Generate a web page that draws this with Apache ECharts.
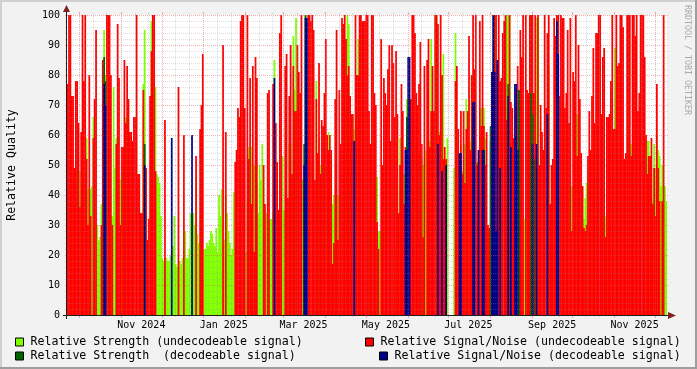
<!DOCTYPE html>
<html><head><meta charset="utf-8">
<script src="https://cdn.jsdelivr.net/npm/echarts@6/dist/echarts.min.js"></script>
<style>html,body{margin:0;padding:0;background:#f2f2f2}#c{width:697px;height:369px}</style>
</head><body><div id="c"></div>
<script>
const _ = null;
// ---- time frame (one value per day) ----
const startDate = [2024, 8, 22];   // 22 Sep 2024
const dayCount = 444;
// ---- series values ----
const strengthUndecodeable = [
_,_,_,_,46,36,_,_,_,48,
_,_,_,_,59,42,_,42,43,66,
_,_,30,25,26,37,37,95,80,_,
_,_,33,33,76,49,59,_,_,45,
50,50,_,66,_,_,_,_,55,_,
_,_,_,_,32,32,77,95,_,_,
_,_,98,_,_,76,47,46,44,33,
19,18,19,19,18,18,20,_,23,33,
17,16,16,18,17,19,20,28,19,19,
22,34,_,34,30,46,27,24,24,_,
_,22,22,24,23,25,28,27,24,23,
29,21,40,33,42,25,25,40,34,28,
24,20,22,41,_,_,_,_,_,_,
_,_,21,38,56,_,56,_,50,40,
44,34,50,45,57,_,_,34,_,_,
32,32,34,85,_,51,_,35,_,53,
35,33,_,_,57,57,41,93,75,99,
_,_,_,_,45,_,100,_,_,_,
_,_,_,_,78,_,59,50,_,50,
50,50,_,61,_,49,37,40,_,_,
40,_,_,_,_,_,68,100,97,_,
_,67,62,_,_,92,_,_,_,_,
_,_,33,33,_,_,_,_,_,46,
28,28,_,_,_,_,_,_,_,_,
_,_,_,22,44,_,59,50,42,47,
_,72,_,_,_,_,_,_,57,_,
54,_,53,50,36,55,_,57,58,92,
_,_,100,100,_,61,_,_,87,51,
_,59,_,_,_,_,49,94,_,_,
_,57,48,41,57,72,61,_,58,80,
_,79,_,51,28,_,69,_,69,59,
29,28,23,_,_,_,_,40,_,_,
_,_,_,_,_,100,100,100,_,_,
_,27,_,_,_,_,_,_,32,_,
_,_,100,_,_,_,_,99,99,22,
_,_,_,_,_,_,83,37,_,_,
_,_,_,_,_,_,_,_,_,_,
_,_,_,43,_,_,_,67,_,_,
_,43,32,39,44,_,_,33,_,38,
33,_,_,_,_,33,_,33,33,24,
34,_,_,_,_,89,_,37,_,_,
_,_,23,_,_,_,_,57,_,_,
_,_,_,_,_,_,_,_,_,58,
58,53,47,38,57,49,62,55,53,43,
50,_,43,38];
const snrUndecodeable = [
77,100,100,73,73,49,78,78,64,36,
61,100,78,100,52,30,80,33,_,59,
72,95,_,_,_,30,85,_,_,100,
100,100,80,30,_,_,57,97,79,30,
56,56,85,64,83,72,61,61,58,66,
66,100,47,47,34,34,75,_,49,25,
32,73,88,100,100,48,_,_,_,_,
_,_,65,_,_,_,_,_,_,_,
_,_,76,_,_,_,60,_,_,_,
_,_,_,_,_,53,_,_,62,70,
87,_,_,_,_,_,_,_,_,_,
_,_,_,_,_,90,_,61,_,_,
_,_,_,_,51,55,69,66,98,100,
100,69,_,100,52,79,37,83,21,86,
79,_,_,_,_,50,37,_,74,75,
_,_,77,_,64,51,35,94,100,_,
_,83,87,39,73,90,47,83,68,68,
90,81,74,100,_,_,_,_,100,100,
98,100,95,45,72,54,84,47,65,63,
74,92,60,55,60,55,17,24,72,95,
25,75,57,99,97,100,92,80,83,73,
67,67,_,100,80,80,100,100,98,98,
98,100,100,68,57,100,100,74,70,31,
22,_,92,50,79,74,70,82,90,58,
90,84,66,88,67,34,50,77,68,37,
56,_,_,_,72,100,100,94,74,70,
77,91,57,26,83,_,85,92,56,68,
83,68,100,100,97,60,100,80,52,56,
52,_,_,_,_,_,_,78,83,62,
53,68,47,68,44,62,68,93,55,80,
100,82,100,50,51,98,63,100,63,50,
61,30,29,58,73,_,100,100,60,100,
78,79,94,98,100,65,_,100,71,69,
59,39,60,83,75,95,86,100,_,100,
75,74,100,100,100,74,100,_,100,50,
70,61,55,100,69,94,100,37,50,52,
99,93,100,100,73,100,99,99,69,74,
95,64,99,28,81,78,100,53,90,72,
54,43,29,28,30,53,68,55,73,89,
64,94,94,100,100,67,86,89,26,66,
66,67,78,100,62,62,100,83,84,100,
100,96,52,54,100,100,100,53,100,100,
93,100,68,74,100,100,100,86,60,47,
53,53,59,37,49,33,77,49,38,_,
38,100,_,_];
// decodeable samples are sparse: [day, value]
const strengthDecodeable = [[27,86],[28,78],[57,57],[175,57],[176,100],[251,66],[313,63],[314,81],[315,100],[326,77],[334,75],[343,74],[344,67],[345,52]];
const snrDecodeable = [[27,77],[28,70],[57,50],[77,59],[92,60],[153,79],[175,50],[176,99],[177,99],[212,58],[250,55],[251,55],[252,86],[253,86],[274,57],[277,48],[280,50],[290,54],[291,54],[300,71],[301,71],[304,55],[307,55],[308,55],[314,81],[315,100],[316,81],[317,28],[318,85],[320,49],[326,73],[328,56],[331,77],[332,77],[333,55],[344,57],[347,57],[355,67],[362,98],[363,87]];
// ---- tick labels ----
const monthLabels = ['Nov 2024','Jan 2025','Mar 2025','May 2025','Jul 2025','Sep 2025','Nov 2025'];
const seriesNames = ['Relative Strength (undecodeable signal)','Relative Signal/Noise (undecodeable signal)','Relative Strength  (decodeable signal)','Relative Signal/Noise (decodeable signal)'];
const colors = ['#80FF00','#FF0000','#006400','#00008B'];

const DAY = 86400000;
const t0 = Date.UTC(startDate[0], startDate[1], startDate[2]);
const dayIndex = (y, m, d) => Math.round((Date.UTC(y, m, d) - t0) / DAY);
const categories = Array.from({length: dayCount}, (v, i) => new Date(t0 + i * DAY).toISOString().slice(0, 10));
const MON = ['Jan','Feb','Mar','Apr','May','Jun','Jul','Aug','Sep','Oct','Nov','Dec'];
const labelDays = [], labelMap = {};
monthLabels.forEach(s => {
  const [mn, yr] = s.split(' ');
  const d = dayIndex(+yr, MON.indexOf(mn), 1) + 15;
  labelDays.push(d); labelMap[d] = s;
});
// vertical grid: major at month starts, minor on day 11 / 21
const vGrid = [];
for (let y = 2024, m = 8; y < 2026; m++) {
  if (m > 11) { m = 0; y++; }
  if (y > 2025) break;
  [[1,1],[11,0],[21,0]].forEach(([dd, major]) => {
    const di = dayIndex(y, m, dd);
    if (di > 0 && di < dayCount) vGrid.push([di, major]);
  });
}
const hGrid = [];
for (let v = 2; v <= 100; v += 2) hGrid.push([v, v % 10 === 0 ? 1 : 0]);

const GRIDC = 'rgba(143,143,143,0.3)', MGRIDC = 'rgba(222,79,79,0.45)';
const FONT = 'DejaVu Sans Mono';

const chart = echarts.init(document.getElementById('c'), null, {renderer: 'canvas', width: 697, height: 369});
const barCommon = {type: 'bar', xAxisIndex: 0, yAxisIndex: 0, barWidth: 1.75, barGap: '-100%', barCategoryGap: '0%', silent: true, animation: false};
chart.setOption({
  backgroundColor: '#f2f2f2',
  animation: false,
  grid: {left: 67, top: 15, width: 600, height: 300, show: true, backgroundColor: '#ffffff', borderWidth: 0},
  xAxis: [
    {type: 'category', data: categories, show: false, boundaryGap: true},
    {type: 'value', min: 0, max: dayCount, position: 'bottom',
     axisLine: {show: false}, axisTick: {show: false}, splitLine: {show: false},
     axisLabel: {customValues: labelDays, formatter: v => labelMap[v] || '', fontFamily: FONT, fontSize: 10, color: '#000', margin: 5}}
  ],
  yAxis: {type: 'value', min: 0, max: 100, interval: 10,
    axisLine: {show: false}, axisTick: {show: false}, splitLine: {show: false},
    axisLabel: {fontFamily: FONT, fontSize: 10, color: '#000', margin: 7}},
  legend: [
    {left: 15, top: 336, data: [seriesNames[0]]},
    {left: 365, top: 336, data: [seriesNames[1]]},
    {left: 15, top: 350, data: [seriesNames[2]]},
    {left: 379, top: 350, data: [seriesNames[3]]}
  ].map(l => Object.assign({padding: 0, itemWidth: 8, itemHeight: 8, icon: 'rect', selectedMode: false,
      itemStyle: {borderColor: '#000', borderWidth: 1},
      textStyle: {fontFamily: FONT, fontSize: 11.6, color: '#000', padding: [0, 0, 0, 2]}}, l)),
  series: [
    Object.assign({name: seriesNames[0], data: strengthUndecodeable, itemStyle: {color: colors[0]}}, barCommon),
    Object.assign({name: seriesNames[1], data: snrUndecodeable, itemStyle: {color: colors[1]}}, barCommon),
    Object.assign({name: seriesNames[2], data: strengthDecodeable, itemStyle: {color: colors[2]}}, barCommon),
    Object.assign({name: seriesNames[3], data: snrDecodeable, itemStyle: {color: colors[3]}}, barCommon),
    {type: 'custom', xAxisIndex: 1, yAxisIndex: 0, z: 5, silent: true, data: vGrid,
     renderItem: (p, api) => {
       const d = api.value(0), major = api.value(1);
       const a = api.coord([d, 0]), b = api.coord([d, 100]);
       const x = Math.round(a[0]) + 0.5, c = major ? MGRIDC : GRIDC;
       return {type: 'group', children: [
         {type: 'line', shape: {x1: x, y1: a[1], x2: x, y2: b[1]}, style: {stroke: c, lineWidth: 1, lineDash: [1, 1]}},
         {type: 'line', shape: {x1: x, y1: a[1], x2: x, y2: a[1] + (major ? 3 : 2)}, style: {stroke: c, lineWidth: 1}},
         {type: 'line', shape: {x1: x, y1: b[1], x2: x, y2: b[1] - (major ? 3 : 2)}, style: {stroke: c, lineWidth: 1}}
       ]};
     }},
    {type: 'custom', xAxisIndex: 1, yAxisIndex: 0, z: 5, silent: true, data: hGrid,
     renderItem: (p, api) => {
       const v = api.value(1) ? 1 : 0, val = api.value(0);
       const a = api.coord([0, val]), b = api.coord([dayCount, val]);
       const y = Math.round(a[1]) + 0.5, c = v ? MGRIDC : GRIDC;
       return {type: 'group', children: [
         {type: 'line', shape: {x1: a[0] - 2, y1: y, x2: b[0] + 2, y2: y}, style: {stroke: c, lineWidth: 1, lineDash: [1, 1]}}
       ]};
     }, encode: {x: -1, y: 0}}
  ],
  graphic: {elements: [
    {type: 'rect', shape: {x: 0, y: 0, width: 697, height: 2}, style: {fill: '#cfcfcf'}, z: 100},
    {type: 'rect', shape: {x: 0, y: 0, width: 2, height: 369}, style: {fill: '#cfcfcf'}, z: 100},
    {type: 'rect', shape: {x: 0, y: 367, width: 697, height: 2}, style: {fill: '#9e9e9e'}, z: 100},
    {type: 'rect', shape: {x: 695, y: 0, width: 2, height: 369}, style: {fill: '#9e9e9e'}, z: 100},
    {type: 'line', shape: {x1: 63, y1: 315.5, x2: 670, y2: 315.5}, style: {stroke: '#1f1f1f', lineWidth: 1}, z: 100},
    {type: 'line', shape: {x1: 66.5, y1: 319, x2: 66.5, y2: 11}, style: {stroke: '#1f1f1f', lineWidth: 1}, z: 100},
    {type: 'polygon', shape: {points: [[668, 312], [676, 315.5], [668, 319]]}, style: {fill: '#801f1f'}, z: 101},
    {type: 'polygon', shape: {points: [[63, 12], [66.5, 5], [70, 12]]}, style: {fill: '#801f1f'}, z: 101},
    {type: 'text', x: 12, y: 165, rotation: Math.PI / 2, style: {text: 'Relative Quality', font: '11.6px "DejaVu Sans Mono"', fill: '#000', align: 'center', verticalAlign: 'middle'}, z: 100},
    {type: 'text', x: 687, y: 60, rotation: -Math.PI / 2, style: {text: 'RRDTOOL / TOBI OETIKER', font: '8.3px "DejaVu Sans Mono"', fill: '#aaaaaa', align: 'center', verticalAlign: 'middle'}, z: 100}
  ]}
});
</script></body></html>
